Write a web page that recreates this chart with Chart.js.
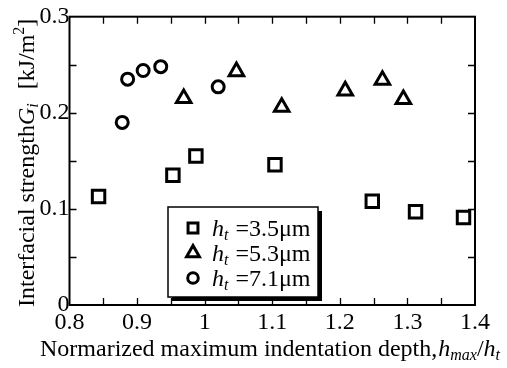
<!DOCTYPE html>
<html><head><meta charset="utf-8">
<script src="https://cdn.jsdelivr.net/npm/chart.js@4"></script>
<style>html,body{margin:0;padding:0;background:#fff;}canvas{display:block;}</style>
</head><body>
<canvas id="c" width="507" height="368"></canvas>
<script>
// ---- data ----
const seriesThickness = ['3.5', '5.3', '7.1'];
const sqX  = [0.843, 0.953, 0.987, 1.104, 1.248, 1.312, 1.383];
const sqY  = [0.113, 0.135, 0.155, 0.146, 0.108, 0.097, 0.091];
const triX = [0.969, 1.047, 1.114, 1.208, 1.263, 1.294];
const triY = [0.215, 0.243, 0.206, 0.223, 0.234, 0.214];
const cirX = [0.878, 0.886, 0.909, 0.935, 1.020];
const cirY = [0.190, 0.235, 0.244, 0.248, 0.227];
const xTickLabels = ['0.8', '0.9', '1', '1.1', '1.2', '1.3', '1.4'];
const yTickLabels = ['0', '0.1', '0.2', '0.3'];

const FONT = '"Liberation Serif", "Times New Roman", serif';
const pts = (xs, ys) => xs.map((x, i) => ({x: x, y: ys[i]}));
const styles = ['rect', 'triangle', 'circle'];
const radii = [8.8, 8.4, 6.0];

const framePlugin = {
  id: 'frame',
  afterDatasetsDraw(chart) {
    const ctx = chart.ctx, a = chart.chartArea;
    const xs = chart.scales.x, ys = chart.scales.y;
    ctx.save();
    ctx.strokeStyle = '#000';
    ctx.lineWidth = 2;
    ctx.strokeRect(a.left, a.top, a.right - a.left, a.bottom - a.top);
    ctx.lineWidth = 1.3;
    const L = 7;
    ctx.beginPath();
    for (let i = 1; i < 12; i++) {
      const px = Math.round(xs.getPixelForValue(0.8 + i * 0.05)) + 0.5;
      ctx.moveTo(px, a.bottom); ctx.lineTo(px, a.bottom - L);
      ctx.moveTo(px, a.top); ctx.lineTo(px, a.top + L);
    }
    for (let i = 1; i < 6; i++) {
      const py = Math.round(ys.getPixelForValue(i * 0.05)) + 0.5;
      ctx.moveTo(a.left, py); ctx.lineTo(a.left + L, py);
      ctx.moveTo(a.right, py); ctx.lineTo(a.right - L, py);
    }
    ctx.stroke();
    ctx.restore();
  },
  afterDraw(chart) {
    const ctx = chart.ctx;
    ctx.save();
    ctx.fillStyle = '#000';
    ctx.textBaseline = 'alphabetic';
    function runs(segs, x, y) {
      for (const s of segs) {
        ctx.font = s.f;
        ctx.fillText(s.t, x, y + (s.dy || 0));
        x += ctx.measureText(s.t).width + (s.sp || 0);
      }
      return x;
    }
    const R = '24px ' + FONT, I = 'italic 24px ' + FONT, S = 'italic 16px ' + FONT, SR = '16px ' + FONT;
    // x title
    runs([
      {t: 'Normarized maximum indentation depth, ', f: R, sp: -5},
      {t: 'h', f: I}, {t: 'max', f: S, dy: 4},
      {t: '/', f: R}, {t: 'h', f: I}, {t: 't', f: S, dy: 4}
    ], 40, 356);
    // y title (rotated)
    ctx.save();
    ctx.translate(34, 307);
    ctx.rotate(-Math.PI / 2);
    runs([
      {t: 'Interfacial strength', f: R},
      {t: 'G', f: I}, {t: 'i', f: S, dy: 4, sp: 14},
      {t: '[kJ/m', f: R}, {t: '2', f: SR, dy: -10}, {t: ']', f: R}
    ], 0, 0);
    ctx.restore();

    // legend
    const bx = 168, by = 207, bw = 150, bh = 90;
    ctx.fillStyle = '#000';
    ctx.fillRect(bx + 4, by + 4, bw, bh);
    ctx.fillStyle = '#fff';
    ctx.fillRect(bx, by, bw, bh);
    ctx.strokeStyle = '#000';
    ctx.lineWidth = 1.5;
    ctx.strokeRect(bx, by, bw, bh);
    const rowsY = [228, 253, 278];
    const lr = [7, 7.4, 5.3];
    for (let i = 0; i < 3; i++) {
      ctx.strokeStyle = '#000';
      ctx.fillStyle = '#fff';
      ctx.lineWidth = 3;
      Chart.helpers.drawPoint(ctx, {pointStyle: styles[i], radius: lr[i], rotation: 0, borderWidth: 3}, 193, rowsY[i]);
      ctx.fillStyle = '#000';
      runs([
        {t: 'h', f: I}, {t: 't', f: S, dy: 4, sp: 7},
        {t: '=' + seriesThickness[i] + '\u03bcm', f: R}
      ], 212, rowsY[i] + 8);
    }
    ctx.restore();
  }
};

const mk = (data, i) => ({
  data: data,
  pointStyle: styles[i],
  pointRadius: radii[i],
  pointBorderWidth: 3,
  pointBorderColor: '#000',
  pointBackgroundColor: 'rgba(0,0,0,0)',
  showLine: false
});

new Chart(document.getElementById('c'), {
  type: 'scatter',
  data: {datasets: [mk(pts(sqX, sqY), 0), mk(pts(triX, triY), 1), mk(pts(cirX, cirY), 2)]},
  options: {
    responsive: false,
    animation: false,
    events: [],
    layout: {padding: {top: 16.7, right: 32, left: 0, bottom: 0}},
    plugins: {legend: {display: false}, tooltip: {enabled: false}},
    scales: {
      x: {
        type: 'linear', min: 0.8, max: 1.4,
        grid: {display: false, drawTicks: false}, border: {display: false},
        ticks: {stepSize: 0.1, padding: 3, color: '#000', font: {family: FONT, size: 24}, maxRotation: 0,
          callback: (v, i) => xTickLabels[i]},
        afterFit: s => { s.height = 63; }
      },
      y: {
        min: 0, max: 0.3,
        grid: {display: false, drawTicks: false}, border: {display: false},
        ticks: {stepSize: 0.1, padding: 0, color: '#000', font: {family: FONT, size: 24},
          callback: (v, i) => yTickLabels[i]},
        afterFit: s => { s.width = 69.5; }
      }
    }
  },
  plugins: [framePlugin]
});
</script>
</body></html>
